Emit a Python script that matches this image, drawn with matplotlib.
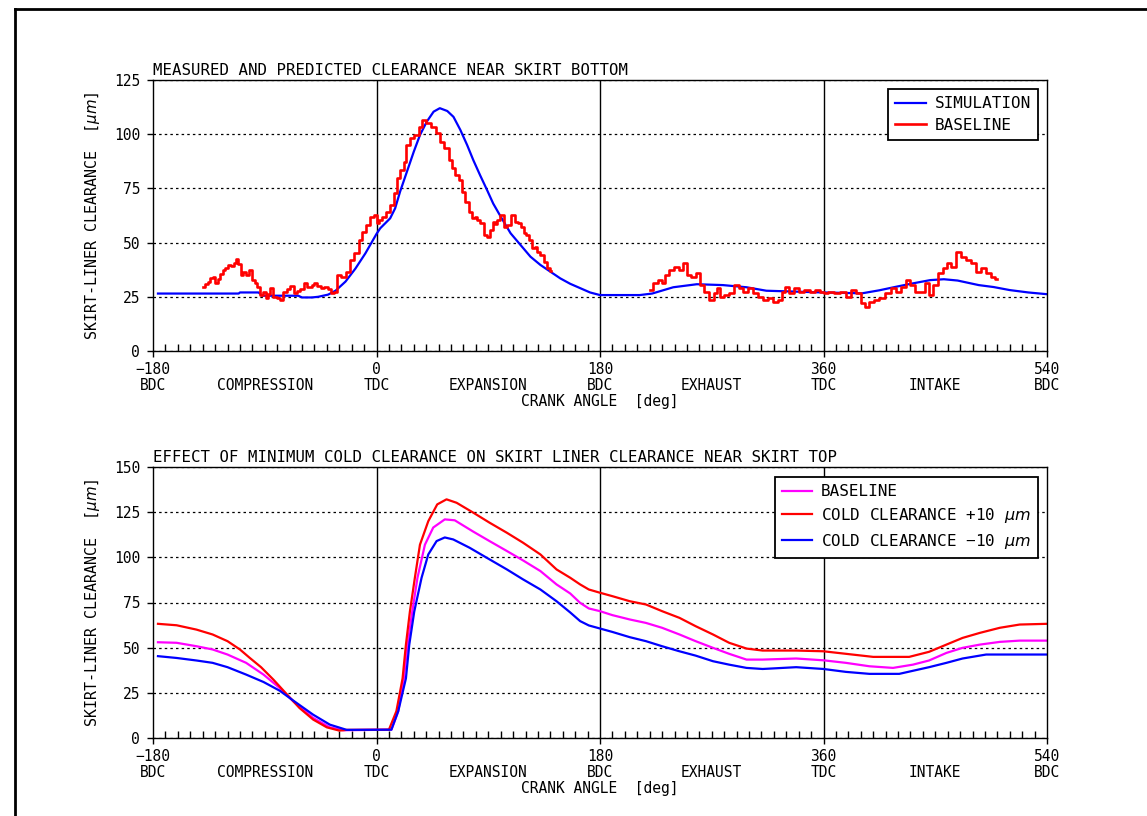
import matplotlib
matplotlib.use("Agg")
import matplotlib.pyplot as plt
from matplotlib.ticker import MultipleLocator
from matplotlib.lines import Line2D

plt.rcParams['font.family'] = ['DejaVu Sans Mono', 'DejaVu Sans']
plt.rcParams['mathtext.fontset'] = 'dejavusans'

# ---- x axis labelling ----
major_ticks = [-180, 0, 180, 360, 540]
tick_numbers = ['\u2212180', '0', '180', '360', '540']
tick_names = ['BDC', 'TDC', 'BDC', 'TDC', 'BDC']
phase_pos = [-90, 90, 270, 450]
phase_names = ['COMPRESSION', 'EXPANSION', 'EXHAUST', 'INTAKE']

# ---- top chart: skirt bottom ----
sim_deg = [-176, -111, -110, -95, -92, -63, -60, -52, -47, -39,
           -33, -25, -17, -9, 0, 3, 11, 15, 19, 24.5,
           30, 35, 40.5, 46, 51, 57, 62, 67.5, 73, 78,
           83.5, 89, 94, 100, 108, 116, 124, 132, 140, 148,
           156, 164, 172, 180, 212, 222, 239, 258, 279, 298,
           314, 360, 391, 405, 419, 432, 446, 457, 468, 485,
           497, 510, 525, 540]
sim_val = [26.5, 26.5, 27, 27, 25.5, 25.5, 24.7, 24.7, 25, 26,
           27.8, 32, 38, 45, 54, 56.6, 61.2, 65.8, 73.5, 82.7,
           91.9, 99.6, 105.8, 110.4, 112, 110.7, 108, 102, 95, 88,
           81, 74.3, 68, 62, 54.3, 48.9, 43.5, 39.7, 36.6, 33.5,
           31, 29, 27, 25.8, 25.8, 26.5, 29.4, 30.8, 30.4, 29.4,
           27.8, 27, 26.6, 28, 29.7, 31.2, 32.7, 33.1, 32.5, 30.4,
           29.5, 28.1, 27, 26.2]

meas1_deg = [-140, -137, -135, -133, -131, -129, -127, -125, -123, -121,
             -119, -116, -114, -112.4, -110, -108.4, -106, -104.4, -101.7, -99,
             -97, -95, -92.3, -90, -88.3, -86, -84.8, -81.6, -79, -76.8,
             -73.5, -71, -68.1, -65.5, -63, -60.1, -57.4, -55, -53.4, -51,
             -49.4, -46, -44, -40, -38, -35.9, -33.3, -30, -26.6, -22.5,
             -19.8, -15.8, -13.1, -10.5, -6.4, -3.7, -1, 1.1, 3, 5.6,
             9.7, 12.4, 15, 17.7, 20.4, 23.1, 25, 28.5, 32.5, 35.2,
             38.4, 41.9, 45.9, 50, 52.7, 56.7, 59.4, 62, 65.2, 68,
             70.1, 72.8, 75.5, 78.1, 80, 82.1, 84.9, 87.5, 90.2, 92.9,
             94.2, 96, 98.2, 101, 103.6, 106.3, 109.8, 113, 115, 117.1,
             119.7, 121.5, 123.8, 126.4, 128.5, 130.5, 133.2, 135.9, 138.5, 140.5]
meas1_val = [29.4, 31, 32, 33.5, 34, 31.5, 33, 35.5, 37.4, 38.5,
             39.7, 39, 40.4, 42.3, 40, 35, 36.5, 35, 37.4, 32.7,
             31.5, 29.7, 25.8, 27, 24.3, 26.5, 28.9, 25, 24.5, 23.5,
             27.4, 28.5, 30, 26.6, 27.5, 28.5, 31.2, 29.5, 29.3, 30.5,
             31.2, 30, 28.9, 29.6, 28.5, 26.6, 27.4, 35, 34, 36.6,
             42, 45, 51.2, 55, 58, 62, 62.7, 59, 60.5, 62,
             64.3, 67.3, 72.7, 79.7, 83.5, 87.3, 95, 98.1, 99.6, 103.5,
             106.5, 105, 103.5, 100.4, 96.5, 93.5, 88, 84.3, 81.2, 78.9,
             73.5, 68.9, 64.3, 61.2, 61.8, 60.4, 58.9, 53.5, 52.7, 55.8,
             59.6, 58.5, 60.4, 62.7, 57.3, 58, 62.7, 59.6, 59, 57.3,
             54.3, 53.5, 51.2, 47.4, 48, 45.8, 44.3, 41.2, 38.1, 37]

meas2_deg = [220.4, 224.4, 228.5, 231, 233.9, 237.9, 241.9, 244.6, 248.6, 251.3,
             255.3, 259.3, 262.1, 266.1, 270.1, 272.8, 275.5, 278.2, 282.2, 286.2,
             290.3, 292.9, 296.9, 301, 305, 309, 313.1, 317.1, 321.1, 325.1,
             327.8, 330.5, 334.5, 338.6, 342.6, 346.6, 352, 355, 358.7, 362,
             365.4, 370.8, 376.2, 380.2, 384.2, 388.3, 392.3, 395, 399, 403,
             407.1, 412.5, 416.5, 420.5, 424.6, 428.6, 431.3, 435.3, 440.7, 443.4,
             446.1, 450.1, 454.1, 458.1, 460.8, 464.8, 468.8, 472.9, 476.9, 480.9,
             484.9, 489, 493, 497, 499.7]
meas2_val = [28.1, 31.2, 32.7, 31.5, 35, 37.4, 38.9, 37.4, 40.4, 35,
             34.3, 35.8, 30.4, 27.4, 23.5, 26.6, 28.9, 25, 25.8, 26.6,
             30.4, 28.9, 27.4, 28.9, 26.6, 25, 23.5, 24.3, 22.7, 23.5,
             27.4, 29.7, 26.6, 28.9, 27.4, 28.1, 27.4, 28.3, 27.4, 26.8,
             27.4, 26.6, 27.4, 25, 28.1, 26.6, 22, 20.4, 22.7, 23.5,
             24.3, 26.6, 28.9, 27.4, 29.7, 32.7, 30.4, 27.4, 27.4, 31.2,
             25.8, 30.4, 35.8, 38.1, 40.4, 38.9, 45.8, 43.5, 42, 40.4,
             36.6, 38.1, 35.8, 34.3, 33.1]

# ---- bottom chart: skirt top ----
plus_deg = [-176, -161, -145, -132, -120, -110, -102, -93, -83, -72.5,
            -62, -51, -40, -30, -24, 10, 16, 21, 23.7, 26.9,
            30.9, 35, 41.7, 48.9, 56.4, 64.5, 78, 91, 105, 118,
            132, 145, 156, 164, 171, 180, 190, 204, 217, 230,
            244, 257, 271, 284, 298, 311, 338, 360, 378, 400,
            429, 445, 459, 472, 486, 502, 518, 540]
plus_val = [63.2, 62.4, 60, 57.3, 53.6, 49, 44.3, 39.2, 32.3, 24.4,
            16.6, 10.2, 5.9, 4.1, 4.5, 4.6, 14.8, 33, 51.7, 70,
            88.7, 107, 120, 129.3, 132.1, 130.2, 124.7, 119.2, 113.6, 108.1,
            101.6, 93.3, 88.7, 85, 82.2, 80.4, 78.5, 75.7, 73.9, 70.2,
            66.5, 61.9, 57.3, 52.7, 49.5, 48.4, 48.4, 48, 46.6, 44.9,
            44.9, 47.7, 51.7, 55.4, 58.2, 61, 62.8, 63.2]

base_deg = [-176, -161, -145, -132, -120, -105, -91, -78, -67, -51,
            -37.6, -27, 12, 17.5, 22, 25, 28.8, 33, 39, 45.7,
            55, 63, 78, 91, 105, 118, 132, 145, 156, 164,
            171, 180, 190, 204, 217, 230, 244, 257, 271, 284,
            298, 311, 338, 360, 378, 397, 416, 432, 445, 459,
            472, 486, 502, 518, 540]
base_val = [53, 52.7, 50.8, 49, 46.2, 41.6, 35.1, 27.7, 20.3, 11.1,
            5.9, 4.3, 4.6, 14.8, 33, 51.7, 70, 88.7, 107, 116.5,
            121, 120.5, 114.2, 109, 103.5, 98.3, 92.4, 85, 80, 74.8,
            71.7, 70.2, 68, 65.6, 63.7, 61, 57.3, 53.6, 49.9, 46.6,
            43.4, 43.4, 44, 43, 41.6, 39.7, 38.8, 40.6, 42.9, 47.1,
            49.9, 51.7, 53.2, 53.9, 53.9]

minus_deg = [-176, -161, -145, -132, -120, -105, -91, -78, -67, -51,
             -37.6, -24, 12, 17.5, 23.7, 26.4, 30.4, 36.3, 41.7, 48.4,
             55, 61.8, 75, 88.7, 105, 118, 132, 145, 156, 164,
             171, 180, 190, 204, 217, 230, 244, 257, 271, 284,
             298, 311, 338, 360, 378, 397, 421, 445, 459, 472,
             491, 540]
minus_val = [45.3, 44.3, 42.9, 41.6, 39.2, 35.1, 31, 26.2, 20.7, 12.9,
             7.4, 4.5, 4.6, 14.8, 33, 51.7, 70, 88.7, 101.6, 109,
             111, 109.9, 105.3, 99.8, 93.3, 87.8, 82.2, 75.7, 69.5, 64.7,
             62.3, 60.6, 58.7, 55.8, 53.6, 50.8, 48, 45.6, 42.5, 40.6,
             38.8, 38.2, 39.2, 38.2, 36.6, 35.5, 35.5, 39.2, 41.6, 44,
             46.2, 46.2]

W, H = 1147, 816
fig = plt.figure(figsize=(W / 100, H / 100), dpi=100)

# frame around the page (only top and left edges are visible)
fig.add_artist(Line2D([15.3 / W, 15.3 / W], [0, 1 - 8.7 / H], transform=fig.transFigure, color='k', lw=2))
fig.add_artist(Line2D([15.3 / W, 1], [1 - 8.7 / H, 1 - 8.7 / H], transform=fig.transFigure, color='k', lw=2))

ax_top = fig.add_axes([153 / W, 1 - 351 / H, 894 / W, 271 / H])
ax_bot = fig.add_axes([153 / W, 1 - 738 / H, 894 / W, 271 / H])

ROW_FS = 10.5


def under_axis(ax, text, x, dy):
    ax.annotate(text, (x, 0), xycoords=('data', 'axes fraction'), xytext=(0, dy),
                textcoords='offset points', ha='center', va='baseline', fontsize=ROW_FS)


def setup(ax, ymax, title):
    ax.set_xlim(-180, 540)
    ax.set_ylim(0, ymax)
    ax.set_xticks(major_ticks)
    ax.set_xticklabels([])
    ax.xaxis.set_minor_locator(MultipleLocator(10))
    ax.tick_params(axis='x', which='major', direction='out', length=4.3, width=1)
    ax.tick_params(axis='x', which='minor', direction='in', length=5.4, width=1)
    ax.set_yticks(range(0, ymax + 1, 25))
    ax.tick_params(axis='y', direction='out', length=4.3, width=1, labelsize=10.5, pad=5)
    ax.grid(axis='y', linestyle=(0, (2, 2.5)), color='k', lw=0.9)
    for s in ax.spines.values():
        s.set_linewidth(1.0)
    for x in (0, 180, 360):
        ax.axvline(x, color='k', lw=1)
    for t, num, name in zip(major_ticks, tick_numbers, tick_names):
        under_axis(ax, num, t, -16.9)
        under_axis(ax, name, t, -28.1)
    for p, name in zip(phase_pos, phase_names):
        under_axis(ax, name, p, -28.1)
    under_axis(ax, 'CRANK ANGLE  [deg]', 180, -39.3)
    ax.annotate(title, (0, 1), xycoords='axes fraction', xytext=(0, 3.6),
                textcoords='offset points', ha='left', va='baseline', fontsize=11.3)
    ax.set_ylabel('SKIRT-LINER CLEARANCE  [$\\mu m$]', fontsize=10.8)
    ax.yaxis.set_label_coords(-0.057, 0.5)


setup(ax_top, 125, 'MEASURED AND PREDICTED CLEARANCE NEAR SKIRT BOTTOM')
setup(ax_bot, 150, 'EFFECT OF MINIMUM COLD CLEARANCE ON SKIRT LINER CLEARANCE NEAR SKIRT TOP')

ax_top.plot(sim_deg, sim_val, color='#0000ff', lw=1.6, label='SIMULATION')
ax_top.plot(meas1_deg, meas1_val, color='#ff0000', lw=1.9, drawstyle='steps-mid', label='BASELINE')
ax_top.plot(meas2_deg, meas2_val, color='#ff0000', lw=1.9, drawstyle='steps-mid')

ax_bot.plot(base_deg, base_val, color='#ff00ff', lw=1.6, label='BASELINE')
ax_bot.plot(plus_deg, plus_val, color='#ff0000', lw=1.6, label='COLD CLEARANCE +10 $\\mu m$')
ax_bot.plot(minus_deg, minus_val, color='#0000ff', lw=1.6, label='COLD CLEARANCE \u221210 $\\mu m$')

for ax, gap_top in ((ax_top, 9), (ax_bot, 10)):
    leg = ax.legend(loc='upper right', bbox_to_anchor=(1 - 9 / 894, 1 - gap_top / 271),
                    borderaxespad=0, fancybox=False, framealpha=1, edgecolor='k',
                    fontsize=11.5, handlelength=1.9, handletextpad=0.55,
                    labelspacing=0.42, borderpad=0.45)
    leg.get_frame().set_linewidth(1.3)

fig.savefig('out.png', dpi=100)
